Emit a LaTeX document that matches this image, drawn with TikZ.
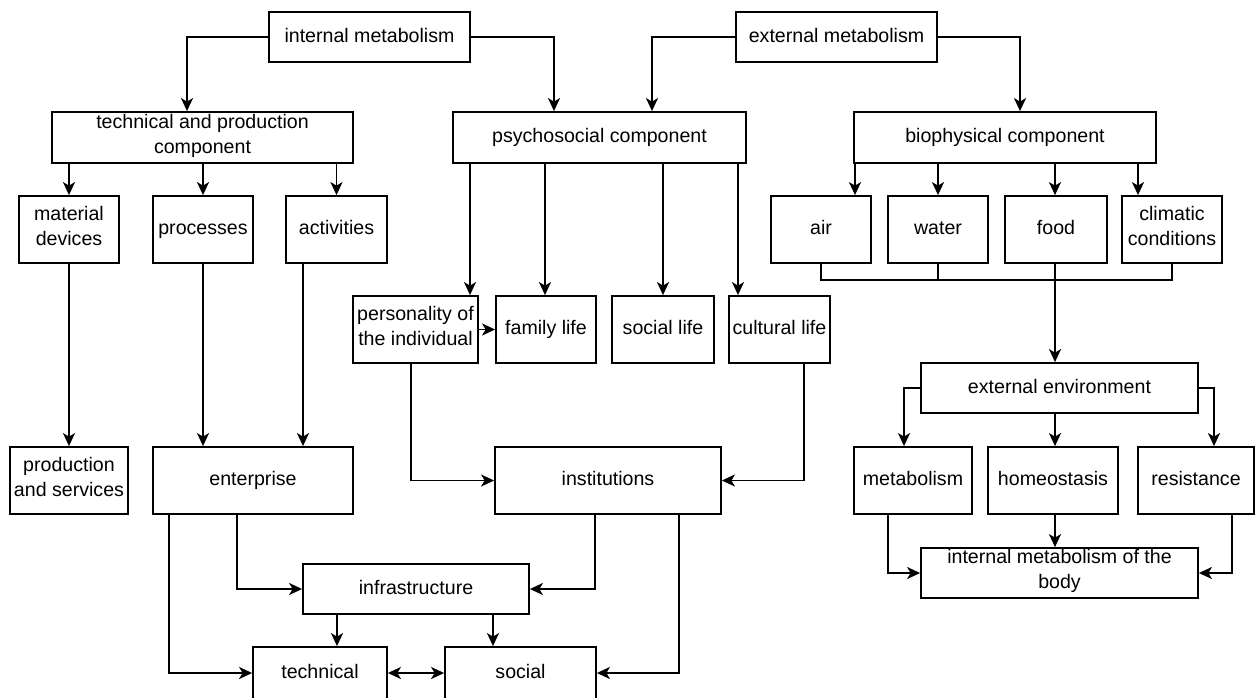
\documentclass[tikz,border=0pt]{standalone}
\usepackage{fontspec}
\setmainfont{Liberation Sans}
\usetikzlibrary{arrows.meta}

\begin{document}
\begin{tikzpicture}[x=1pt, y=-1pt, ->, >={Stealth[length=13pt,width=12pt,inset=3.5pt]}, line width=1.8pt,
		block/.style={align=center, draw, inner sep=1pt, execute at begin node=\strut, execute at end node=\strut}]
			\fontsize{19.6}{25}\selectfont
			\useasboundingbox (0, 0) rectangle (1256, 697);
			% top level
			\node[block, minimum width=201pt, minimum height=50pt] at (369.5, 37) (intmet) {internal metabolism};
			\node[block, minimum width=201pt, minimum height=50pt] at (836.5, 37) (extmet) {external metabolism};
			% components
			\node[block, minimum width=301pt, minimum height=51pt] at (202.5, 137.5) (techprod) {technical and production\\component};
			\node[block, minimum width=293pt, minimum height=51pt] at (599.5, 137.5) (psycho) {psychosocial component};
			\node[block, minimum width=302pt, minimum height=51pt] at (1005, 137.5) (biophys) {biophysical component};
			% technical branch
			\node[block, minimum width=100pt, minimum height=67pt] at (69, 229.5) (matdev) {material\\devices};
			\node[block, minimum width=100pt, minimum height=67pt] at (203, 229.5) (processes) {processes};
			\node[block, minimum width=101pt, minimum height=67pt] at (336.5, 229.5) (activities) {activities};
			\node[block, minimum width=118pt, minimum height=67pt] at (69, 480.5) (prodserv) {production\\and services};
			\node[block, minimum width=200pt, minimum height=67pt] at (253, 480.5) (enterprise) {enterprise};
			% psychosocial branch
			\node[block, minimum width=125pt, minimum height=67pt] at (415.5, 329.5) (personality) {personality of\\the individual};
			\node[block, minimum width=100pt, minimum height=67pt] at (546, 329.5) (family) {family life};
			\node[block, minimum width=102pt, minimum height=67pt] at (663, 329.5) (soclife) {social life};
			\node[block, minimum width=101pt, minimum height=67pt] at (779.5, 329.5) (cultural) {cultural life};
			\node[block, minimum width=226pt, minimum height=67pt] at (608, 480.5) (institutions) {institutions};
			% bottom
			\node[block, minimum width=226pt, minimum height=50pt] at (416, 589) (infra) {infrastructure};
			\node[block, minimum width=134pt, minimum height=52pt] at (320, 673) (technical) {technical};
			\node[block, minimum width=151pt, minimum height=52pt] at (520.5, 673) (social) {social};
			% biophysical branch
			\node[block, minimum width=100pt, minimum height=67pt] at (821, 229.5) (air) {air};
			\node[block, minimum width=100pt, minimum height=67pt] at (938, 229.5) (water) {water};
			\node[block, minimum width=102pt, minimum height=67pt] at (1056, 229.5) (food) {food};
			\node[block, minimum width=100pt, minimum height=67pt] at (1172, 229.5) (climatic) {climatic\\conditions};
			\node[block, minimum width=277pt, minimum height=50pt] at (1059.5, 388) (extenv) {external environment};
			\node[block, minimum width=118pt, minimum height=67pt] at (913, 480.5) (metab) {metabolism};
			\node[block, minimum width=130pt, minimum height=67pt] at (1053, 480.5) (homeo) {homeostasis};
			\node[block, minimum width=116pt, minimum height=67pt] at (1196, 480.5) (resist) {resistance};
			\node[block, minimum width=277pt, minimum height=50pt] at (1059.5, 573) (intbody) {internal metabolism of the\\body};

			% connectors from the top
			\draw (intmet.west) -| ([xshift=-15.5pt]techprod.north);
			\draw (intmet.east) -| ([xshift=-45.5pt]psycho.north);
			\draw (extmet.west) -| ([xshift=52.5pt]psycho.north);
			\draw (extmet.east) -| ([xshift=15pt]biophys.north);

			\draw (matdev.north |- techprod.south) -- (matdev.north);
			\draw (processes.north |- techprod.south) -- (processes.north);
			\draw (activities.north |- techprod.south) -- (activities.north);

			\draw ([xshift=54.5pt]personality.north |- psycho.south) -- ([xshift=54.5pt]personality.north);
			\draw ([xshift=-1pt]family.north |- psycho.south) -- ([xshift=-1pt]family.north);
			\draw (soclife.north |- psycho.south) -- (soclife.north);
			\draw ([xshift=-41.5pt]cultural.north |- psycho.south) -- ([xshift=-41.5pt]cultural.north);
			\draw (personality.east) -- (family.west);

			\draw ([xshift=34pt]air.north |- biophys.south) -- ([xshift=34pt]air.north);
			\draw (water.north |- biophys.south) -- (water.north);
			\draw ([xshift=-1pt]food.north |- biophys.south) -- ([xshift=-1pt]food.north);
			\draw ([xshift=-34pt]climatic.north |- biophys.south) -- ([xshift=-34pt]climatic.north);

			% air, water and climate join the line from food
			\draw[-] (air.south) -- ++(0, 16) -| (climatic.south);
			\draw[-] (water.south) -- ++(0, 16);
			\draw ([xshift=-1pt]food.south) -- ([xshift=-1pt]food.south |- extenv.north);

			\draw (extenv.west) -| ([xshift=-9pt]metab.north);
			\draw ([xshift=2pt]homeo.north |- extenv.south) -- ([xshift=2pt]homeo.north);
			\draw (extenv.east) -| ([xshift=18pt]resist.north);
			\draw ([xshift=-25pt]metab.south) |- (intbody.west);
			\draw ([xshift=2pt]homeo.south) -- ([xshift=2pt]homeo.south |- intbody.north);
			\draw ([xshift=36pt]resist.south) |- (intbody.east);

			% lower left part
			\draw (matdev.south) -- (prodserv.north);
			\draw (processes.south) -- (processes.south |- enterprise.north);
			\draw ([xshift=-33.5pt]activities.south) -- ([xshift=-33.5pt]activities.south |- enterprise.north);
			\draw ([xshift=-4.5pt]personality.south) |- (institutions.west);
			\draw ([xshift=24.5pt]cultural.south) |- (institutions.east);

			\draw ([xshift=-84pt]enterprise.south) |- (technical.west);
			\draw ([xshift=-16pt]enterprise.south) |- (infra.west);
			\draw ([xshift=-13pt]institutions.south) |- (infra.east);
			\draw ([xshift=71pt]institutions.south) |- (social.east);
			\draw ([xshift=17pt]technical.north |- infra.south) -- ([xshift=17pt]technical.north);
			\draw ([xshift=-27.5pt]social.north |- infra.south) -- ([xshift=-27.5pt]social.north);
			\draw[<->] (technical.east) -- (social.west);
		\end{tikzpicture}
\end{document}
